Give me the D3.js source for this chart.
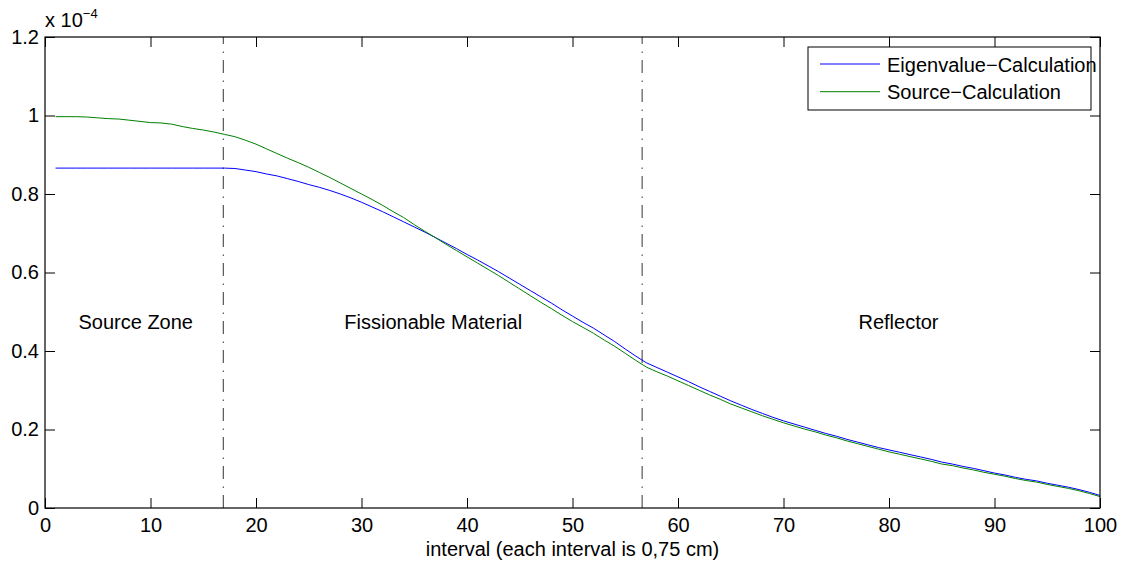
<!DOCTYPE html>
<html>
<head>
<meta charset="utf-8">
<script src="https://cdn.jsdelivr.net/npm/d3@7"></script>
<style>
  html, body { margin: 0; padding: 0; background: #fff; }
  svg { display: block; font-family: "Liberation Sans", Arial, Helvetica, sans-serif; }
</style>
</head>
<body>
<svg id="chart" width="1125" height="562"></svg>
<script>
// Interval index along the slab
const intervals = d3.range(1, 101);

// Flux per interval, units of 1e-4
const eigenvalueFlux = [
  0.866, 0.866, 0.866, 0.866, 0.866, 0.866, 0.866, 0.866, 0.866, 0.866,
  0.866, 0.866, 0.866, 0.866, 0.866, 0.866, 0.866, 0.865, 0.861, 0.857,
  0.851, 0.846, 0.839, 0.832, 0.824, 0.817, 0.809, 0.800, 0.790, 0.779,
  0.767, 0.755, 0.742, 0.729, 0.716, 0.703, 0.689, 0.675, 0.661, 0.646,
  0.632, 0.617, 0.602, 0.586, 0.570, 0.554, 0.538, 0.522, 0.505, 0.489,
  0.473, 0.458, 0.441, 0.424, 0.405, 0.387, 0.370, 0.358, 0.346, 0.334,
  0.322, 0.309, 0.297, 0.285, 0.273, 0.262, 0.251, 0.241, 0.231, 0.222,
  0.214, 0.206, 0.198, 0.190, 0.183, 0.175, 0.168, 0.161, 0.154, 0.148,
  0.142, 0.136, 0.130, 0.124, 0.117, 0.112, 0.106, 0.101, 0.095, 0.089,
  0.084, 0.078, 0.073, 0.069, 0.063, 0.058, 0.053, 0.047, 0.040, 0.032
];

const sourceFlux = [
  0.997, 0.997, 0.997, 0.996, 0.994, 0.992, 0.991, 0.988, 0.985, 0.982,
  0.981, 0.978, 0.972, 0.967, 0.963, 0.958, 0.952, 0.946, 0.937, 0.927,
  0.915, 0.903, 0.891, 0.880, 0.868, 0.855, 0.842, 0.828, 0.814, 0.800,
  0.786, 0.771, 0.755, 0.740, 0.722, 0.705, 0.689, 0.672, 0.656, 0.640,
  0.624, 0.608, 0.592, 0.575, 0.558, 0.541, 0.524, 0.508, 0.491, 0.475,
  0.460, 0.445, 0.428, 0.412, 0.394, 0.376, 0.359, 0.347, 0.336, 0.324,
  0.312, 0.300, 0.288, 0.277, 0.265, 0.255, 0.245, 0.235, 0.226, 0.217,
  0.209, 0.201, 0.194, 0.186, 0.179, 0.171, 0.164, 0.157, 0.150, 0.143,
  0.137, 0.131, 0.125, 0.119, 0.112, 0.108, 0.102, 0.097, 0.091, 0.086,
  0.081, 0.075, 0.070, 0.066, 0.060, 0.055, 0.050, 0.044, 0.037, 0.029
];

const seriesNames = ["Eigenvalue\u2212Calculation", "Source\u2212Calculation"];
const seriesColors = ["#0000ff", "#008000"];

// Zone boundaries (interval units) and zone labels
const boundaries = [16.9, 56.6];
const zoneNames = ["Source Zone", "Fissionable Material", "Reflector"];
const zoneCenters = [8.6, 36.8, 80.9];
const zoneLabelValue = 0.455;

const xTicks = d3.range(0, 101, 10);
const yTicks = [0, 0.2, 0.4, 0.6, 0.8, 1, 1.2];

const svg = d3.select("#chart");
const plotLeft = 45, plotRight = 1100, plotTop = 37, plotBottom = 508;

const x = d3.scaleLinear().domain([0, 100]).range([plotLeft, plotRight]);
const y = d3.scaleLinear().domain([0, 1.2]).range([plotBottom, plotTop]);

const fontSize = 20;
const fontFamily = "\"Liberation Sans\", Arial, Helvetica, sans-serif";

// Axes with inward ticks on all four sides (boxed axes)
const fmtY = d => (d === 0 ? "0" : d3.format("~g")(d));
const gx = svg.append("g").attr("transform", `translate(0,${plotBottom})`)
  .call(d3.axisBottom(x).tickValues(xTicks).tickSizeInner(-10).tickSizeOuter(0).tickPadding(10));
const gy = svg.append("g").attr("transform", `translate(${plotLeft},0)`)
  .call(d3.axisLeft(y).tickValues(yTicks).tickFormat(fmtY).tickSizeInner(-10).tickSizeOuter(0).tickPadding(6));
const gxt = svg.append("g").attr("transform", `translate(0,${plotTop})`)
  .call(d3.axisTop(x).tickValues(xTicks).tickSizeInner(-10).tickSizeOuter(0).tickFormat(""));
const gyr = svg.append("g").attr("transform", `translate(${plotRight},0)`)
  .call(d3.axisRight(y).tickValues(yTicks).tickSizeInner(-10).tickSizeOuter(0).tickFormat(""));

[gx, gy, gxt, gyr].forEach(g => {
  g.select(".domain").remove();
  g.selectAll("line").attr("stroke", "#000").attr("stroke-width", 1);
  g.selectAll("text").attr("fill", "#000").style("font-size", fontSize + "px")
    .style("font-family", fontFamily);
});

// Exponent label above the y axis
const expo = svg.append("text").attr("x", plotLeft).attr("y", 27)
  .style("font-size", fontSize + "px").attr("fill", "#000");
expo.append("tspan").text("x 10");
expo.append("tspan").attr("dy", -9).style("font-size", "13px").text("\u22124");

// Zone boundaries
svg.selectAll("line.boundary").data(boundaries).enter().append("line")
  .attr("class", "boundary")
  .attr("x1", d => x(d)).attr("x2", d => x(d))
  .attr("y1", y(0)).attr("y2", plotTop)
  .attr("stroke", "#333").attr("stroke-width", 1)
  .attr("stroke-dasharray", "13,7,1.5,7.5");

// Zone labels
svg.selectAll("text.zone").data(zoneNames).enter().append("text")
  .attr("class", "zone")
  .attr("x", (d, i) => x(zoneCenters[i]))
  .attr("y", y(zoneLabelValue))
  .attr("text-anchor", "middle")
  .style("font-size", fontSize + "px")
  .attr("fill", "#000")
  .text(d => d);

// Flux curves
const line = d3.line().x((d, i) => x(intervals[i])).y(d => y(d));
[eigenvalueFlux, sourceFlux].forEach((vals, k) => {
  svg.append("path").datum(vals)
    .attr("fill", "none")
    .attr("stroke", seriesColors[k])
    .attr("stroke-width", 1)
    .attr("d", line);
});

// Plot box
svg.append("rect")
  .attr("x", plotLeft).attr("y", plotTop)
  .attr("width", plotRight - plotLeft).attr("height", plotBottom - plotTop)
  .attr("fill", "none").attr("stroke", "#000").attr("stroke-width", 1.2);

// Legend
const lg = svg.append("g").attr("transform", "translate(808,47)");
lg.append("rect").attr("width", 283).attr("height", 63)
  .attr("fill", "#fff").attr("stroke", "#000").attr("stroke-width", 1);
seriesNames.forEach((name, i) => {
  const ly = 17 + i * 27.7;
  lg.append("line").attr("x1", 12).attr("x2", 72).attr("y1", ly).attr("y2", ly)
    .attr("stroke", seriesColors[i]).attr("stroke-width", 1);
  lg.append("text").attr("x", 79).attr("y", ly + 7.5)
    .style("font-size", fontSize + "px").attr("fill", "#000").text(name);
});

// X axis title
svg.append("text")
  .attr("x", (plotLeft + plotRight) / 2).attr("y", 556)
  .attr("text-anchor", "middle")
  .style("font-size", fontSize + "px").attr("fill", "#000")
  .text("interval (each interval is 0,75 cm)");
</script>
</body>
</html>
